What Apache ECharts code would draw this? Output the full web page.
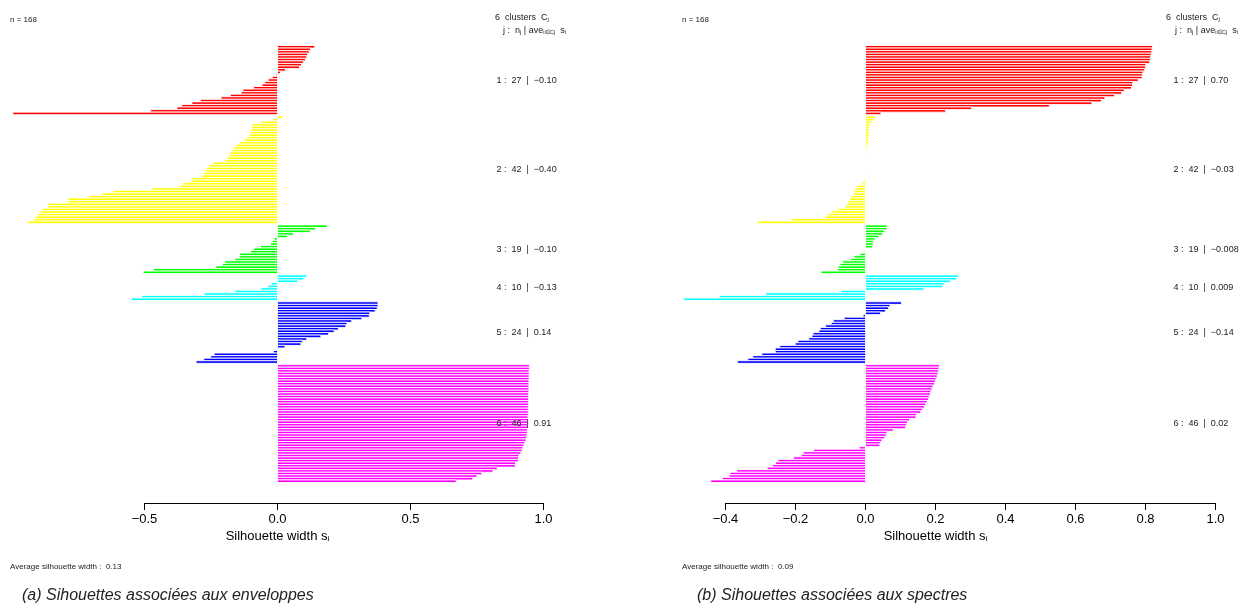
<!DOCTYPE html>
<html><head><meta charset="utf-8">
<script src="https://cdn.jsdelivr.net/npm/echarts@6/dist/echarts.min.js"></script>
<style>html,body{margin:0;padding:0;background:#fff}#c{width:1248px;height:613px}</style>
</head><body><div id="c"></div>
<script>
// ---------- data ----------
const clusterColors = ['#FF0000','#FFFF00','#00FF00','#00FFFF','#0000FF','#FF00FF'];
// (a) envelopes : silhouette widths, sorted within each cluster
const envC1 = [0.140,0.124,0.119,0.113,0.110,0.105,0.098,0.090,0.083,0.030,0.011,-0.005,-0.020,-0.035,-0.048,-0.058,-0.090,-0.130,-0.137,-0.177,-0.212,-0.290,-0.322,-0.360,-0.378,-0.477,-0.995];
const envC2 = [0.020,-0.017,-0.063,-0.097,-0.099,-0.100,-0.102,-0.105,-0.115,-0.125,-0.142,-0.156,-0.165,-0.172,-0.178,-0.183,-0.189,-0.199,-0.244,-0.259,-0.268,-0.271,-0.279,-0.285,-0.322,-0.326,-0.356,-0.369,-0.471,-0.617,-0.658,-0.709,-0.789,-0.789,-0.863,-0.863,-0.883,-0.890,-0.903,-0.910,-0.917,-0.940];
const envC3 = [0.187,0.143,0.123,0.059,0.038,-0.013,-0.019,-0.026,-0.064,-0.089,-0.102,-0.142,-0.144,-0.160,-0.198,-0.207,-0.232,-0.467,-0.505];
const envC4 = [0.110,0.099,0.076,-0.023,-0.036,-0.063,-0.160,-0.276,-0.510,-0.550];
const envC5 = [0.378,0.378,0.375,0.367,0.347,0.345,0.317,0.279,0.261,0.257,0.229,0.213,0.192,0.163,0.110,0.093,0.088,0.028,-0.004,-0.015,-0.238,-0.251,-0.277,-0.306];
const envC6 = [0.947,0.947,0.946,0.946,0.946,0.946,0.945,0.945,0.945,0.945,0.945,0.944,0.944,0.944,0.944,0.944,0.943,0.943,0.943,0.943,0.942,0.942,0.942,0.941,0.941,0.940,0.939,0.938,0.936,0.934,0.930,0.926,0.922,0.920,0.915,0.908,0.906,0.905,0.895,0.894,0.826,0.810,0.768,0.750,0.734,0.672];
const envAvg = ['\u22120.10','\u22120.40','\u22120.10','\u22120.13','0.14','0.91'];
const envTotalAvg = '0.13';
// (b) spectra
const specC1 = [0.820,0.819,0.818,0.816,0.815,0.814,0.812,0.801,0.800,0.797,0.793,0.791,0.790,0.779,0.764,0.763,0.760,0.739,0.732,0.711,0.684,0.674,0.647,0.525,0.303,0.229,0.044];
const specC2 = [0.029,0.023,0.018,0.013,0.012,0.011,0.011,0.010,0.009,0.009,0.008,0.006,0.004,0.003,0.002,0.001,0.001,0.0005,0.0003,0,0,-0.0005,-0.001,-0.002,-0.004,-0.005,-0.010,-0.025,-0.029,-0.033,-0.033,-0.041,-0.045,-0.050,-0.053,-0.058,-0.078,-0.096,-0.109,-0.116,-0.213,-0.309];
const specC3 = [0.062,0.061,0.054,0.049,0.038,0.027,0.023,0.022,0.020,0.001,-0.002,-0.016,-0.033,-0.042,-0.065,-0.073,-0.078,-0.081,-0.127];
const specC4 = [0.266,0.260,0.243,0.225,0.220,0.167,-0.071,-0.285,-0.418,-0.519];
const specC5 = [0.103,0.070,0.066,0.057,0.043,-0.007,-0.061,-0.092,-0.098,-0.114,-0.129,-0.133,-0.150,-0.153,-0.162,-0.193,-0.201,-0.245,-0.258,-0.258,-0.296,-0.322,-0.336,-0.366];
const specC6 = [0.211,0.210,0.209,0.207,0.205,0.202,0.200,0.197,0.193,0.190,0.187,0.185,0.182,0.180,0.176,0.172,0.168,0.163,0.158,0.146,0.144,0.126,0.120,0.117,0.115,0.079,0.061,0.059,0.055,0.047,0.042,0.041,-0.018,-0.148,-0.178,-0.183,-0.206,-0.250,-0.257,-0.266,-0.281,-0.368,-0.387,-0.390,-0.409,-0.442];
const specAvg = ['0.70','\u22120.03','\u22120.008','0.009','\u22120.14','0.02'];
const specTotalAvg = '0.09';
const leftTicks = {min:-0.5, max:1.0, interval:0.5};
const rightTicks = {min:-0.4, max:1.0, interval:0.2};
const captionA = '(a) Sihouettes associées aux enveloppes';
const captionB = '(b) Sihouettes associées aux spectres';

// ---------- build ----------
const FONT = '"Liberation Sans Narrow","Arial Narrow","Liberation Sans",Arial,sans-serif';
function buildPanel(clusters){
  const bars = [], labels = [];
  let pos = 0;
  clusters.forEach((c, k) => {
    if (k > 0) pos += 0.5;
    const start = pos;
    c.forEach(v => { bars.push([v, pos + 0.5, k]); pos += 1; });
    labels.push([1.0, (start + pos) / 2, k, c.length]);
  });
  return {bars, labels, total: pos};
}
const A = buildPanel([envC1,envC2,envC3,envC4,envC5,envC6]);
const B = buildPanel([specC1,specC2,specC3,specC4,specC5,specC6]);

function barItem(params, api){
  const v = api.value(0), y = api.value(1);
  const p0 = api.coord([0, y]), p1 = api.coord([v, y]);
  const hh = api.size([0, 1])[1];
  return {type:'rect',
    shape:{x:Math.min(p0[0],p1[0]), y:p0[1]-hh/2, width:Math.abs(p1[0]-p0[0]), height:hh},
    style:{fill:clusterColors[api.value(2)], stroke:'#ffffff', lineWidth:0.9}};
}
function labelRenderer(avgs, offset){
  return function(params, api){
    const p = api.coord([api.value(0), api.value(1)]);
    const k = api.value(2);
    return {type:'text', x:p[0]-offset, y:p[1],
      style:{text:(k+1)+' :  '+api.value(3)+'  |  '+avgs[k], fill:'#222', font:'9px '+FONT, textVerticalAlign:'middle', textAlign:'left'}};
  };
}
const fmt = v => (v < 0 ? '\u2212' : '') + Math.abs(v).toFixed(1);
const subRich = {s:{fontSize:8, fontFamily:FONT, verticalAlign:'bottom', color:'#000'}};
const sub6 = {s:{fontSize:6, fontFamily:FONT, verticalAlign:'bottom', color:'#222'}};

const gTop = 45.5, gH = 437;
const option = {
  animation:false,
  backgroundColor:'#fff',
  grid:[
    {left:11.5, top:gTop, width:532, height:gH},
    {left:144.5, top:gTop, width:399, height:457.5},
    {left:655.5, top:gTop, width:560, height:gH},
    {left:725.5, top:gTop, width:490, height:457.5}
  ],
  xAxis:[
    {gridIndex:0, type:'value', min:-1, max:1, axisLine:{show:false}, axisTick:{show:false}, axisLabel:{show:false}, splitLine:{show:false},
     name:'Silhouette width s{s|i}', nameLocation:'middle', nameGap:47, nameTextStyle:{fontSize:13, fontFamily:FONT, color:'#000', rich:subRich}},
    {gridIndex:1, type:'value', min:leftTicks.min, max:leftTicks.max, interval:leftTicks.interval,
     axisLine:{lineStyle:{color:'#000', width:1}}, axisTick:{length:7, lineStyle:{color:'#000'}},
     axisLabel:{fontSize:13, fontFamily:FONT, color:'#000', margin:10, formatter:fmt, showMinLabel:true, showMaxLabel:true}, splitLine:{show:false}},
    {gridIndex:2, type:'value', min:-0.6, max:1, axisLine:{show:false}, axisTick:{show:false}, axisLabel:{show:false}, splitLine:{show:false},
     name:'Silhouette width s{s|i}', nameLocation:'middle', nameGap:47, nameTextStyle:{fontSize:13, fontFamily:FONT, color:'#000', rich:subRich}},
    {gridIndex:3, type:'value', min:rightTicks.min, max:rightTicks.max, interval:rightTicks.interval,
     axisLine:{lineStyle:{color:'#000', width:1}}, axisTick:{length:7, lineStyle:{color:'#000'}},
     axisLabel:{fontSize:13, fontFamily:FONT, color:'#000', margin:10, formatter:fmt, showMinLabel:true, showMaxLabel:true}, splitLine:{show:false}}
  ],
  yAxis:[
    {gridIndex:0, type:'value', min:0, max:A.total, inverse:true, show:false},
    {gridIndex:1, type:'value', min:0, max:1, show:false},
    {gridIndex:2, type:'value', min:0, max:B.total, inverse:true, show:false},
    {gridIndex:3, type:'value', min:0, max:1, show:false}
  ],
  series:[
    {type:'custom', xAxisIndex:0, yAxisIndex:0, renderItem:barItem, data:A.bars, silent:true},
    {type:'custom', xAxisIndex:0, yAxisIndex:0, renderItem:labelRenderer(envAvg, 47), data:A.labels, silent:true, z:5},
    {type:'custom', xAxisIndex:2, yAxisIndex:2, renderItem:barItem, data:B.bars, silent:true},
    {type:'custom', xAxisIndex:2, yAxisIndex:2, renderItem:labelRenderer(specAvg, 42), data:B.labels, silent:true, z:5}
  ],
  graphic:[
    {type:'text', left:10, top:16, style:{text:'n = '+(A.bars.length), font:'8px '+FONT, fill:'#222'}},
    {type:'text', left:682, top:16, style:{text:'n = '+(B.bars.length), font:'8px '+FONT, fill:'#222'}},
    {type:'text', left:495, top:13, style:{text:'6  clusters  C{s|j}', font:'9px '+FONT, fill:'#222', rich:sub6}},
    {type:'text', left:503, top:26, style:{text:'j :  n{s|j} | ave{s|i\u2208Cj}  s{s|i}', font:'9px '+FONT, fill:'#222', rich:sub6}},
    {type:'text', left:1166, top:13, style:{text:'6  clusters  C{s|j}', font:'9px '+FONT, fill:'#222', rich:sub6}},
    {type:'text', left:1175, top:26, style:{text:'j :  n{s|j} | ave{s|i\u2208Cj}  s{s|i}', font:'9px '+FONT, fill:'#222', rich:sub6}},
    {type:'text', left:10, top:563, style:{text:'Average silhouette width :  '+envTotalAvg, font:'8px '+FONT, fill:'#222'}},
    {type:'text', left:682, top:563, style:{text:'Average silhouette width :  '+specTotalAvg, font:'8px '+FONT, fill:'#222'}},
    {type:'text', left:22, top:588, style:{text:captionA, font:'italic 16px "Liberation Sans",sans-serif', fill:'#222'}},
    {type:'text', left:697, top:588, style:{text:captionB, font:'italic 16px "Liberation Sans",sans-serif', fill:'#222'}}
  ]
};
const chart = echarts.init(document.getElementById('c'), null, {renderer:'canvas'});
chart.setOption(option);
</script></body></html>
